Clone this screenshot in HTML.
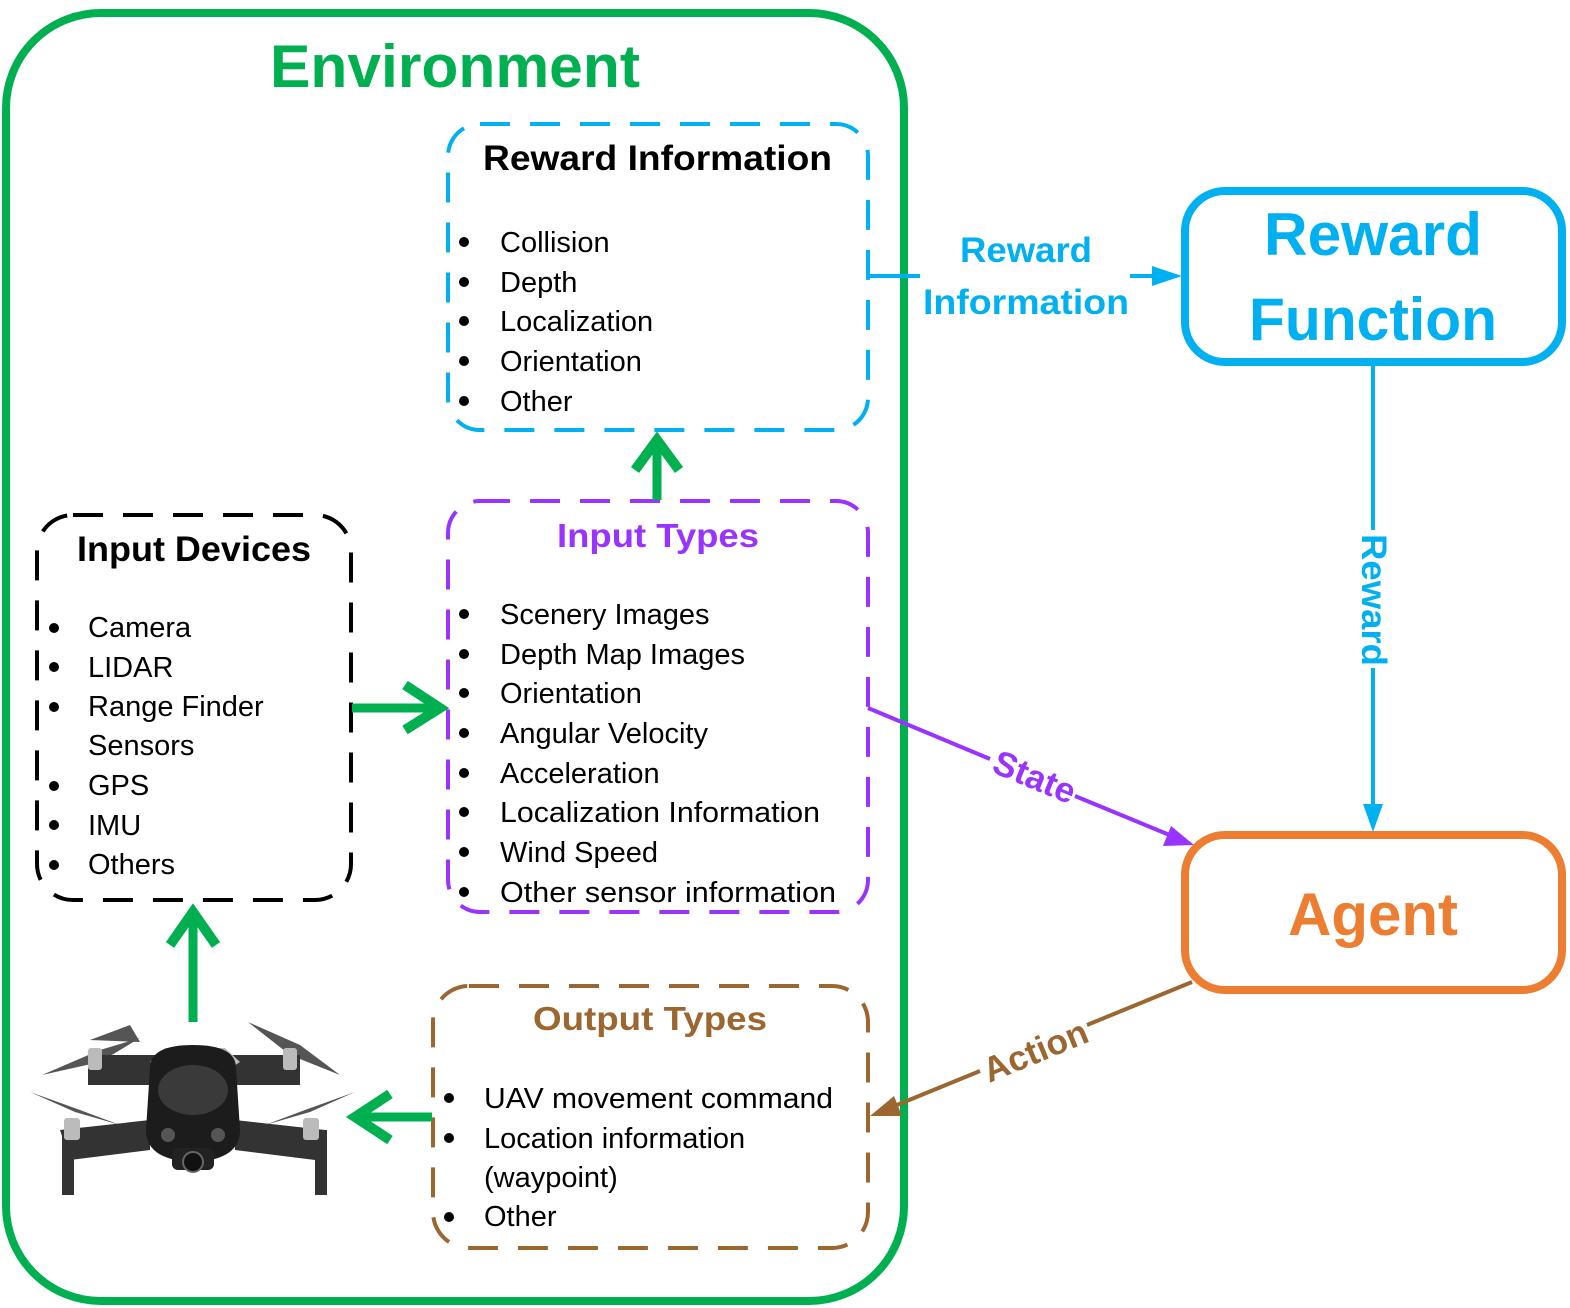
<!DOCTYPE html>
<html><head><meta charset="utf-8"><style>
html,body{margin:0;padding:0;background:#fff;}
svg{display:block;font-family:"Liberation Sans",sans-serif;}
</style></head><body>
<svg width="1570" height="1308" viewBox="0 0 1570 1308" xmlns="http://www.w3.org/2000/svg">
<defs>
<marker id="mb" markerWidth="10" markerHeight="10" refX="9" refY="5" orient="auto" markerUnits="userSpaceOnUse"><path d="M0,0 L0,0"/></marker>
</defs>
<!-- Environment -->
<rect x="6" y="13" width="898" height="1288" rx="95" fill="none" stroke="#00b050" stroke-width="8"/>
<text x="455" y="87" text-anchor="middle" font-size="60" font-weight="bold" fill="#00b050" textLength="370" lengthAdjust="spacingAndGlyphs">Environment</text>

<!-- Reward Information box -->
<rect x="448" y="124" width="420" height="306" rx="32" fill="none" stroke="#00b0f0" stroke-width="4" stroke-dasharray="30 20"/>
<text x="483" y="170" font-size="35" font-weight="bold" fill="#000" textLength="349" lengthAdjust="spacingAndGlyphs">Reward Information</text>
<g font-size="29" fill="#000">
<circle cx="464" cy="242" r="5"/><text x="500" y="252">Collision</text>
<circle cx="464" cy="282" r="5"/><text x="500" y="292">Depth</text>
<circle cx="464" cy="321" r="5"/><text x="500" y="331">Localization</text>
<circle cx="464" cy="361" r="5"/><text x="500" y="371">Orientation</text>
<circle cx="464" cy="401" r="5"/><text x="500" y="411">Other</text>
</g>

<!-- Input Types -->
<rect x="448" y="501" width="420" height="411" rx="32" fill="none" stroke="#9933ff" stroke-width="4" stroke-dasharray="30 20"/>
<text x="658" y="547" text-anchor="middle" font-size="33" font-weight="bold" fill="#9933ff" textLength="202" lengthAdjust="spacingAndGlyphs">Input Types</text>
<g font-size="29" fill="#000">
<circle cx="464" cy="614" r="5"/><text x="500" y="624">Scenery Images</text>
<circle cx="464" cy="654" r="5"/><text x="500" y="664">Depth Map Images</text>
<circle cx="464" cy="693" r="5"/><text x="500" y="703">Orientation</text>
<circle cx="464" cy="733" r="5"/><text x="500" y="743">Angular Velocity</text>
<circle cx="464" cy="773" r="5"/><text x="500" y="783">Acceleration</text>
<circle cx="464" cy="812" r="5"/><text x="500" y="822" textLength="320" lengthAdjust="spacingAndGlyphs">Localization Information</text>
<circle cx="464" cy="852" r="5"/><text x="500" y="862">Wind Speed</text>
<circle cx="464" cy="892" r="5"/><text x="500" y="902" textLength="336" lengthAdjust="spacingAndGlyphs">Other sensor information</text>
</g>

<!-- Input Devices -->
<rect x="37" y="515" width="314" height="385" rx="36" fill="none" stroke="#000" stroke-width="4" stroke-dasharray="30 20"/>
<text x="77" y="561" font-size="35" font-weight="bold" fill="#000" textLength="234" lengthAdjust="spacingAndGlyphs">Input Devices</text>
<g font-size="29" fill="#000">
<circle cx="54" cy="628" r="5"/><text x="88" y="637">Camera</text>
<circle cx="54" cy="667" r="5"/><text x="88" y="677">LIDAR</text>
<circle cx="54" cy="707" r="5"/><text x="88" y="716">Range Finder</text>
<text x="88" y="755">Sensors</text>
<circle cx="54" cy="786" r="5"/><text x="88" y="795">GPS</text>
<circle cx="54" cy="825" r="5"/><text x="88" y="835">IMU</text>
<circle cx="54" cy="865" r="5"/><text x="88" y="874">Others</text>
</g>

<!-- Output Types -->
<rect x="433" y="986" width="435" height="262" rx="36" fill="none" stroke="#9c6630" stroke-width="4" stroke-dasharray="30 20"/>
<text x="650" y="1030" text-anchor="middle" font-size="33" font-weight="bold" fill="#9c6630" textLength="234" lengthAdjust="spacingAndGlyphs">Output Types</text>
<g font-size="29" fill="#000">
<circle cx="449" cy="1098" r="5"/><text x="484" y="1108" textLength="349" lengthAdjust="spacingAndGlyphs">UAV movement command</text>
<circle cx="449" cy="1138" r="5"/><text x="484" y="1148">Location information</text>
<text x="484" y="1187">(waypoint)</text>
<circle cx="449" cy="1217" r="5"/><text x="484" y="1226">Other</text>
</g>

<!-- Reward Function -->
<rect x="1185" y="191" width="377" height="171" rx="40" fill="none" stroke="#00b0f0" stroke-width="8"/>
<text x="1373" y="255" text-anchor="middle" font-size="60" font-weight="bold" fill="#00b0f0" textLength="218" lengthAdjust="spacingAndGlyphs">Reward</text>
<text x="1373" y="340" text-anchor="middle" font-size="60" font-weight="bold" fill="#00b0f0" textLength="248" lengthAdjust="spacingAndGlyphs">Function</text>

<!-- Agent -->
<rect x="1185" y="835" width="377" height="155" rx="40" fill="none" stroke="#ed7d31" stroke-width="8"/>
<text x="1373" y="935" text-anchor="middle" font-size="60" font-weight="bold" fill="#ed7d31" textLength="170" lengthAdjust="spacingAndGlyphs">Agent</text>

<!-- Green arrows -->
<g stroke="#00b050" stroke-width="9" fill="none">
<line x1="657" y1="500" x2="657" y2="440"/>
<polyline points="635,470 657,440 679,470" stroke-width="10"/>
<line x1="352" y1="708" x2="440" y2="708"/>
<polyline points="405,685 440,708 405,730" stroke-width="10"/>
<line x1="193" y1="1022" x2="193" y2="912"/>
<polyline points="170,945 193,912 216,945" stroke-width="10"/>
<line x1="432" y1="1117" x2="355" y2="1117"/>
<polyline points="390,1094 355,1117 390,1140" stroke-width="10"/>
</g>

<!-- Reward Information connector -->
<g stroke="#00b0f0" stroke-width="4" fill="none">
<line x1="868" y1="276" x2="920" y2="276"/>
<line x1="1130" y1="276" x2="1165" y2="276"/>
<line x1="1373" y1="362" x2="1373" y2="530"/>
<line x1="1373" y1="668" x2="1373" y2="810"/>
</g>
<polygon points="1182,276 1152,266 1152,286" fill="#00b0f0"/>
<polygon points="1373,832 1363,804 1383,804" fill="#00b0f0"/>
<text x="1026" y="262" text-anchor="middle" font-size="35" font-weight="bold" fill="#00b0f0" textLength="132" lengthAdjust="spacingAndGlyphs">Reward</text>
<text x="1026" y="314" text-anchor="middle" font-size="35" font-weight="bold" fill="#00b0f0" textLength="206" lengthAdjust="spacingAndGlyphs">Information</text>
<text transform="translate(1362,600) rotate(90)" text-anchor="middle" font-size="35" font-weight="bold" fill="#00b0f0" textLength="132" lengthAdjust="spacingAndGlyphs">Reward</text>

<!-- State -->
<line x1="868" y1="708" x2="990" y2="759" stroke="#9933ff" stroke-width="4"/>
<line x1="1075" y1="796" x2="1172" y2="836" stroke="#9933ff" stroke-width="4"/>
<polygon points="1194,845 1163,846 1171,826" fill="#9933ff"/>
<text transform="translate(1030,788) rotate(22.5)" text-anchor="middle" font-size="35" font-weight="bold" fill="#9933ff" textLength="86" lengthAdjust="spacingAndGlyphs">State</text>

<!-- Action -->
<line x1="1192" y1="982" x2="1087" y2="1025" stroke="#9c6630" stroke-width="4"/>
<line x1="980" y1="1071" x2="892" y2="1107" stroke="#9c6630" stroke-width="4"/>
<polygon points="870,1116 894,1096 902,1116" fill="#9c6630"/>
<text transform="translate(1040,1062) rotate(-22.5)" text-anchor="middle" font-size="35" font-weight="bold" fill="#9c6630" textLength="110" lengthAdjust="spacingAndGlyphs">Action</text>

<!-- Drone -->
<g>
<!-- propellers -->
<g fill="#555">
<polygon points="42,1075 100,1050 140,1038 100,1062"/>
<polygon points="140,1042 130,1025 90,1040"/>
<polygon points="248,1022 300,1045 340,1075 290,1055"/>
<polygon points="30,1092 80,1110 120,1125 75,1112"/>
<polygon points="355,1092 305,1110 265,1125 310,1112"/>
</g>
<!-- arms -->
<g fill="#333">
<rect x="88" y="1055" width="70" height="30"/>
<rect x="230" y="1055" width="70" height="30"/>
<polygon points="60,1130 150,1120 150,1150 70,1160"/>
<polygon points="325,1130 235,1120 235,1150 315,1160"/>
<rect x="62" y="1130" width="12" height="65"/>
<rect x="315" y="1130" width="12" height="65"/>
<rect x="90" y="1055" width="8" height="30"/>
<rect x="290" y="1055" width="8" height="30"/>
</g>
<g fill="#bbb">
<rect x="88" y="1048" width="14" height="22" rx="3"/>
<rect x="283" y="1048" width="14" height="22" rx="3"/>
<rect x="64" y="1118" width="16" height="22" rx="3"/>
<rect x="303" y="1118" width="16" height="22" rx="3"/>
<polygon points="150,1062 165,1048 225,1048 240,1062 225,1072 165,1072"/>
</g>
<!-- body -->
<path d="M150,1068 Q150,1045 193,1045 Q236,1045 236,1068 L240,1130 Q240,1160 193,1162 Q146,1160 146,1130 Z" fill="#1c1c1c"/>
<ellipse cx="193" cy="1090" rx="35" ry="25" fill="#3a3a3a"/>
<circle cx="168" cy="1135" r="7" fill="#555"/>
<circle cx="218" cy="1135" r="7" fill="#555"/>
<rect x="172" y="1148" width="42" height="22" rx="6" fill="#222"/>
<circle cx="193" cy="1162" r="10" fill="#111" stroke="#666" stroke-width="2"/>
</g>
</svg>
</body></html>
